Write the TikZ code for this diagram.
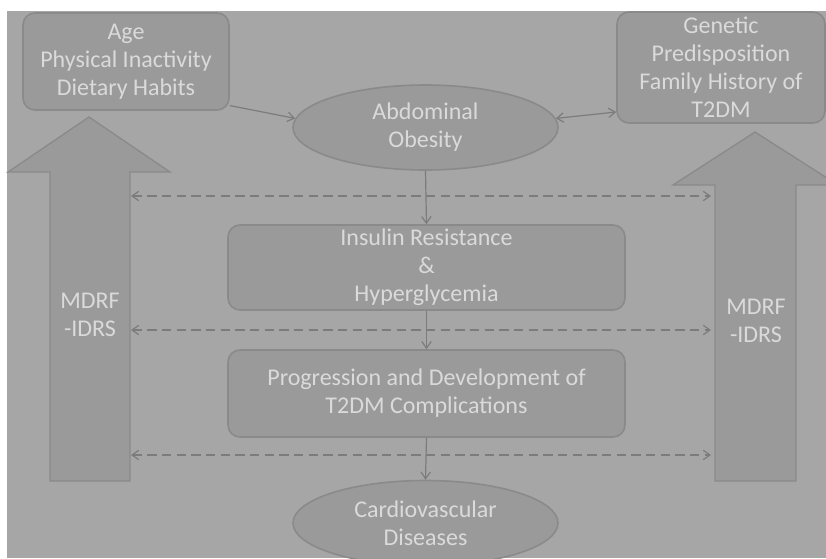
\documentclass[tikz,border=0pt]{standalone}
\usepackage{fontspec}
\setmainfont{Carlito}
\usepackage{xcolor}
\usepackage{tikz}
\usetikzlibrary{shapes.geometric,arrows.meta}

\definecolor{bggray}{HTML}{A6A6A6}
\definecolor{boxgray}{HTML}{9A9A9A}
\definecolor{edgegray}{HTML}{8A8A8A}
\definecolor{linegray}{HTML}{7C7C7C}
\definecolor{textgray}{HTML}{DADADA}

\tikzset{
	txt/.style={text=textgray, align=center, font=\fontsize{18}{21}\selectfont},
	rbox/.style={txt, draw=edgegray, line width=1.2pt, fill=boxgray, rounded corners=9pt, inner sep=0pt},
	oval/.style={txt, ellipse, draw=edgegray, line width=1.2pt, fill=boxgray, inner sep=0pt,
		minimum width=198.75pt, minimum height=63.75pt},
	bigarrow/.style={draw=edgegray, line width=1pt, fill=boxgray},
	conn/.style={draw=linegray, line width=0.9pt, -{Straight Barb[length=5pt,width=7pt]}},
	dconn/.style={conn, {Straight Barb[length=5pt,width=7pt]}-{Straight Barb[length=5pt,width=7pt]},
		dash pattern=on 7pt off 4pt}
}

\begin{document}
\begin{tikzpicture}[x=0.75pt, y=-0.75pt]
	\useasboundingbox (0,0) rectangle (826,558);
	\clip (0,0) rectangle (826,558);
	\fill[white] (0,0) rectangle (826,558);
	\fill[bggray] (7,11) rectangle (826,558);

	% side arrows
	\draw[bigarrow] (50,481) -- (50,172) -- (8,172) -- (89,117) -- (170,172) -- (130,172) -- (130,481) -- cycle;
	\draw[bigarrow] (715,481) -- (715,185) -- (673,185) -- (755,132) -- (838,185) -- (796,185) -- (796,481) -- cycle;
	\node[txt] (lmdrf) at (90,315) {MDRF\\-IDRS};
	\node[txt] (rmdrf) at (756,321) {MDRF\\-IDRS};

	% boxes
	\node[rbox, minimum width=154.5pt, minimum height=72.75pt] (risk) at (126,61.5)
		{Age\\Physical Inactivity\\Dietary Habits};
	\node[rbox, minimum width=156pt, minimum height=83.25pt] (gene) at (721,67.5)
		{Genetic\\Predisposition\\Family History of\\T2DM};
	\node[oval] (obes) at (425.5,127.5) {Abdominal\\Obesity};
	\node[rbox, minimum width=297.75pt, minimum height=63.75pt] (insr) at (426.5,267.5)
		{Insulin Resistance\\\&\\Hyperglycemia};
	\node[rbox, minimum width=297.75pt, minimum height=65.25pt] (prog) at (426.5,393.5)
		{Progression and Development of\\T2DM Complications};
	\node[oval] (cvd) at (425.5,523) {Cardiovascular\\Diseases};

	\draw[conn] (risk.-23) -- (obes.176);
	\draw[conn, {Straight Barb[length=5pt,width=7pt]}-{Straight Barb[length=5pt,width=7pt]}] (obes.4) -- (gene.203);
	\draw[conn] (obes.south) -- (insr.north);
	\draw[conn] (insr.south) -- (prog.north);
	\draw[conn] (prog.south) -- (cvd.north);

	% dashed links between the side arrows
	\coordinate (la1) at (131,196);
	\coordinate (ra1) at (711,196);
	\coordinate (la2) at (131,330);
	\coordinate (ra2) at (711,330);
	\coordinate (la3) at (131,455);
	\coordinate (ra3) at (711,455);
	\foreach \i in {1,2,3}
		\draw[dconn] (la\i) -- (ra\i);
\end{tikzpicture}
\end{document}
